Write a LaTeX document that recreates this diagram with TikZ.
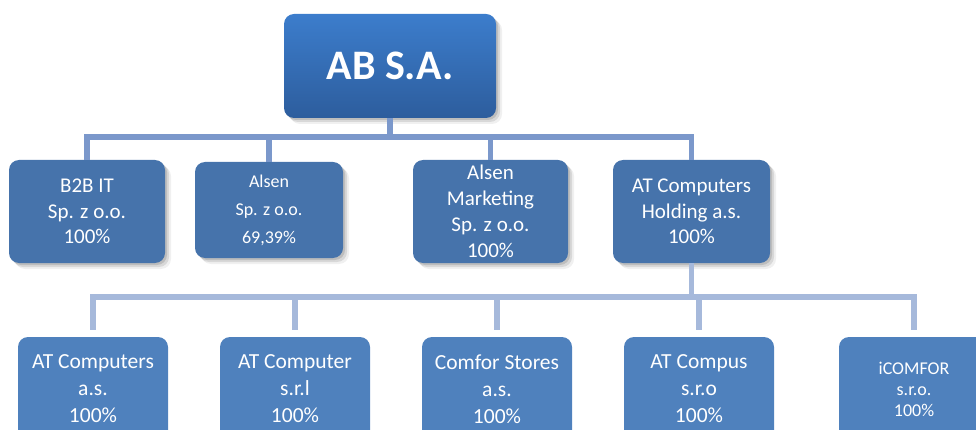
\documentclass[tikz,border=0pt]{standalone}
\usepackage{fontspec}
\setmainfont{Carlito}
\usetikzlibrary{shadows}
\definecolor{topblue}{HTML}{3C7DCC}
\definecolor{topdark}{HTML}{2D5D9D}
\definecolor{midblue}{HTML}{4673AB}
\definecolor{lowblue}{HTML}{4F81BD}
\definecolor{linemid}{HTML}{7B98CB}
\definecolor{linelow}{HTML}{A6B9DB}
\tikzset{
    unit/.style={rounded corners=10pt, inner sep=0pt, align=center, text=white,
        font=\fontsize{21}{25.5}\selectfont},
    soft shadow/.style={
        drop shadow={shadow xshift=2pt, shadow yshift=-2pt, fill=black, opacity=0.12},
        drop shadow={shadow xshift=4pt, shadow yshift=-4pt, fill=black, opacity=0.10},
        drop shadow={shadow xshift=6pt, shadow yshift=-6pt, fill=black, opacity=0.06}},
    topbox/.style={unit, soft shadow, top color=topblue, bottom color=topdark,
        minimum width=212pt, minimum height=104pt,
        font=\fontsize{42}{48}\selectfont\bfseries},
    midbox/.style={unit, soft shadow, fill=midblue, minimum height=103pt},
    lowbox/.style={unit, fill=lowblue, minimum width=150pt, minimum height=104pt,
        font=\fontsize{21.5}{27}\selectfont},
    midline/.style={draw=linemid, line width=5.5pt},
    lowline/.style={draw=linelow, line width=5.5pt, shorten >=7pt},
}

\begin{document}
\begin{tikzpicture}[x=1pt, y=-1pt]

    \useasboundingbox (0,0) rectangle (976,430);

    % parent
    \node[topbox] (ab) at (390,66) {AB S.A.};

    % first level
    \node[midbox, minimum width=156pt] (b2b) at (87,211.5)
        {B2B IT\\Sp. z o.o.\\100\%};
    \node[midbox, minimum width=148pt, minimum height=96pt,
        font=\fontsize{18}{28}\selectfont] (alsen) at (269,210)
        {Alsen\\Sp. z o.o.\\69,39\%};
    \node[midbox, minimum width=155pt,
        font=\fontsize{21}{26}\selectfont] (alsenm) at (490.5,211.5)
        {Alsen\\Marketing\\Sp. z o.o.\\100\%};
    \node[midbox, minimum width=157pt] (hold) at (691.5,211.5)
        {AT Computers\\Holding a.s.\\100\%};

    % second level
    \foreach \N/\X/\T in {atc/93/{AT Computers\\a.s.\\100\%},
                          atr/295/{AT Computer\\s.r.l\\100\%},
                          cst/497/{Comfor Stores\\a.s.\\100\%},
                          acp/699/{AT Compus\\s.r.o\\100\%}}{
        \node[lowbox] (\N) at (\X,389) {\T};
    }
    \node[lowbox, font=\fontsize{18}{21}\selectfont] (icf) at (914,389)
        {iCOMFOR\\s.r.o.\\100\%};

    % connectors
    \foreach \N in {b2b,alsen,alsenm,hold}{
        \draw[midline] (ab.south) -- ++(0,19) -| (\N.north);
    }
    \foreach \N in {atc,atr,cst,acp,icf}{
        \draw[lowline] (hold.south) -- ++(0,34) -| (\N.north);
    }

\end{tikzpicture}
\end{document}
